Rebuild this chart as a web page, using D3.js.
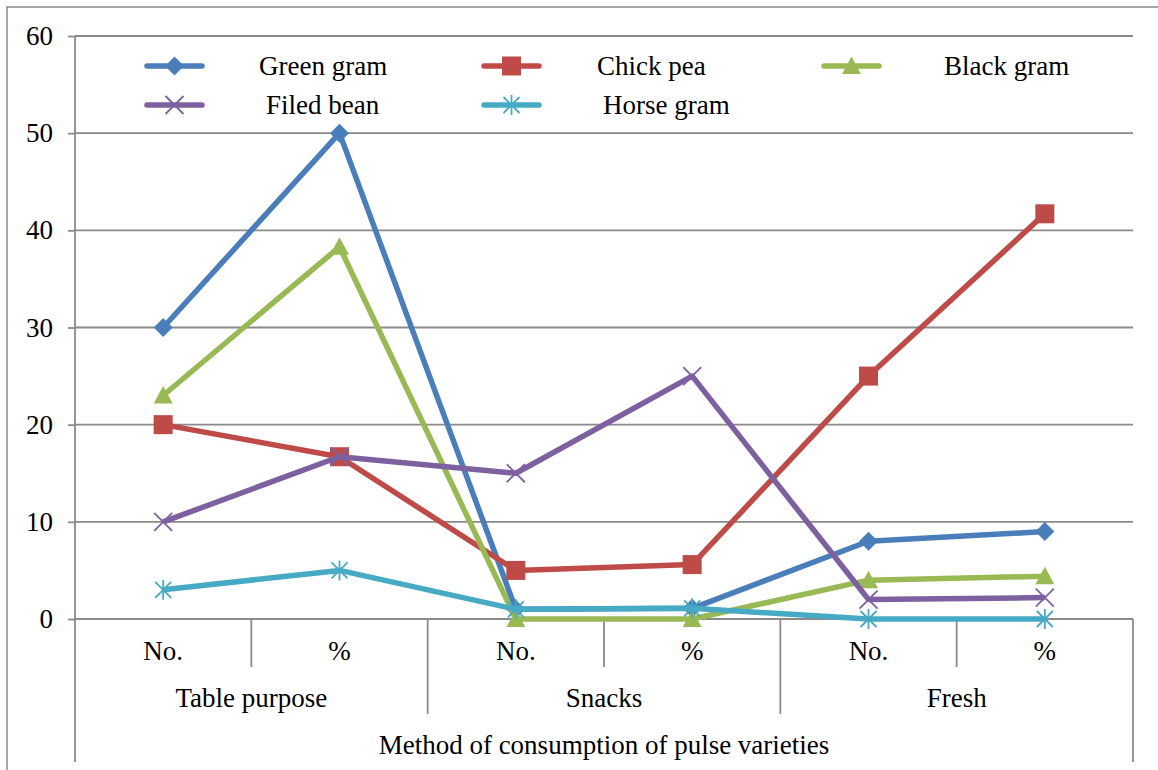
<!DOCTYPE html>
<html>
<head>
<meta charset="utf-8">
<script src="https://cdn.jsdelivr.net/npm/d3@7"></script>
<style>
  html, body { margin: 0; padding: 0; background: #fff; }
</style>
</head>
<body>
<svg id="chart" width="1158" height="770"></svg>
<script>
// Sub-categories along the x axis, grouped by consumption method
const categories = ["No.", "%", "No.", "%", "No.", "%"];
const groups = ["Table purpose", "Snacks", "Fresh"];
const yTicks = [0, 10, 20, 30, 40, 50, 60];

const seriesNames = ["Green gram", "Chick pea", "Black gram", "Filed bean", "Horse gram"];
const greenGram = [30, 50, 1, 1.1, 8, 9];
const chickPea = [20, 16.7, 5, 5.6, 25, 41.7];
const blackGram = [23, 38.3, 0, 0, 4, 4.4];
const filedBean = [10, 16.7, 15, 25, 2, 2.2];
const horseGram = [3, 5, 1, 1.1, 0, 0];

const colors = ["#4A7EBB", "#BE4B48", "#98B954", "#7D60A0", "#46AAC5"];
const markers = ["diamond", "square", "triangle", "cross", "asterisk"];
const seriesValues = [greenGram, chickPea, blackGram, filedBean, horseGram];

const FONT = "'Liberation Serif', 'Times New Roman', Tinos, 'DejaVu Serif', serif";
const FONT_SIZE = 27;

const svg = d3.select("#chart");
const plotLeft = 75, plotRight = 1133, plotTop = 36, plotBottom = 619;

const x = d3.scaleBand().domain(d3.range(categories.length)).range([plotLeft, plotRight]);
const y = d3.scaleLinear().domain([0, 60]).range([plotBottom, plotTop]);
const grid = "#8a8a8a";

function styleText(sel) {
  return sel.style("font-family", FONT).style("font-size", FONT_SIZE + "px").style("fill", "#000");
}

// outer frame (top and left edges)
svg.append("path").attr("d", "M7,770 L7,7 L1158,7")
  .attr("fill", "none").attr("stroke", grid).attr("stroke-width", 1.5);

// horizontal gridlines
svg.append("g").selectAll("line").data(yTicks.filter(d => d > 0)).join("line")
  .attr("x1", plotLeft).attr("x2", plotRight)
  .attr("y1", d => y(d)).attr("y2", d => y(d))
  .attr("stroke", grid).attr("stroke-width", 1.8);

// y axis
const yAxis = d3.axisLeft(y).tickValues(yTicks).tickSize(7).tickPadding(15);
const gy = svg.append("g").attr("transform", `translate(${plotLeft},0)`).call(yAxis);
gy.select(".domain").remove();
gy.selectAll(".tick line").attr("stroke", grid).attr("stroke-width", 1.8);
styleText(gy.selectAll(".tick text"));

// y axis line, extended down through the category table
svg.append("line").attr("x1", plotLeft).attr("x2", plotLeft).attr("y1", plotTop).attr("y2", 762)
  .attr("stroke", grid).attr("stroke-width", 1.8);
svg.append("line").attr("x1", plotRight).attr("x2", plotRight).attr("y1", plotBottom).attr("y2", 762)
  .attr("stroke", grid).attr("stroke-width", 1.8);

// x axis baseline
svg.append("line").attr("x1", plotLeft).attr("x2", plotRight).attr("y1", plotBottom).attr("y2", plotBottom)
  .attr("stroke", grid).attr("stroke-width", 1.8);

// dividers between sub-categories and between groups
const bw = x.bandwidth();
d3.range(1, categories.length).forEach(i => {
  const xx = x(i);
  const isGroup = i % 2 === 0;
  svg.append("line").attr("x1", xx).attr("x2", xx)
    .attr("y1", plotBottom).attr("y2", isGroup ? 714 : 667)
    .attr("stroke", grid).attr("stroke-width", 1.8);
});

// category labels
styleText(svg.append("g").selectAll("text").data(categories).join("text")
  .attr("x", (d, i) => x(i) + bw / 2).attr("y", 651)
  .attr("text-anchor", "middle").attr("dominant-baseline", "central")
  .text(d => d));

// group labels
styleText(svg.append("g").selectAll("text").data(groups).join("text")
  .attr("x", (d, i) => x(i * 2) + bw)
  .attr("y", 698)
  .attr("text-anchor", "middle").attr("dominant-baseline", "central")
  .text(d => d));

// axis title
styleText(svg.append("text").attr("x", (plotLeft + plotRight) / 2).attr("y", 745)
  .attr("text-anchor", "middle").attr("dominant-baseline", "central")
  .text("Method of consumption of pulse varieties"));

// marker drawing
function drawMarker(g, type, color) {
  if (type === "diamond") {
    g.append("path").attr("d", "M0,-9.5 L9.5,0 L0,9.5 L-9.5,0Z").attr("fill", color);
  } else if (type === "square") {
    g.append("rect").attr("x", -9.5).attr("y", -9.5).attr("width", 19).attr("height", 19).attr("fill", color);
  } else if (type === "triangle") {
    g.append("path").attr("d", "M0,-9.5 L9.5,8 L-9.5,8Z").attr("fill", color);
  } else if (type === "cross") {
    g.append("path").attr("d", "M-9,-9 L9,9 M-9,9 L9,-9")
      .attr("stroke", color).attr("stroke-width", 1.8).attr("fill", "none");
  } else if (type === "asterisk") {
    g.append("path").attr("d", "M-8,-8 L8,8 M-8,8 L8,-8 M0,-10 L0,10")
      .attr("stroke", color).attr("stroke-width", 1.8).attr("fill", "none");
  }
}

const line = d3.line().x((d, i) => x(i) + bw / 2).y(d => y(d));

seriesValues.forEach((vals, s) => {
  const g = svg.append("g");
  g.append("path").datum(vals).attr("d", line)
    .attr("fill", "none").attr("stroke", colors[s]).attr("stroke-width", 5.5)
    .attr("stroke-linejoin", "round");
  vals.forEach((v, i) => {
    const m = g.append("g").attr("transform", `translate(${x(i) + bw / 2},${y(v)})`);
    drawMarker(m, markers[s], colors[s]);
  });
});

// legend
const legendPos = [
  { lx: 147, ty: 66, tx: 259 },
  { lx: 484, ty: 66, tx: 597 },
  { lx: 824, ty: 66, tx: 944 },
  { lx: 147, ty: 105, tx: 266 },
  { lx: 484, ty: 105, tx: 603 }
];
const legend = svg.append("g");
seriesNames.forEach((name, s) => {
  const p = legendPos[s];
  legend.append("line").attr("x1", p.lx).attr("x2", p.lx + 55)
    .attr("y1", p.ty).attr("y2", p.ty)
    .attr("stroke", colors[s]).attr("stroke-width", 5.5).attr("stroke-linecap", "round");
  const m = legend.append("g").attr("transform", `translate(${p.lx + 27.5},${p.ty})`);
  drawMarker(m, markers[s], colors[s]);
  styleText(legend.append("text").attr("x", p.tx).attr("y", p.ty)
    .attr("dominant-baseline", "central").text(name));
});
</script>
</body>
</html>
